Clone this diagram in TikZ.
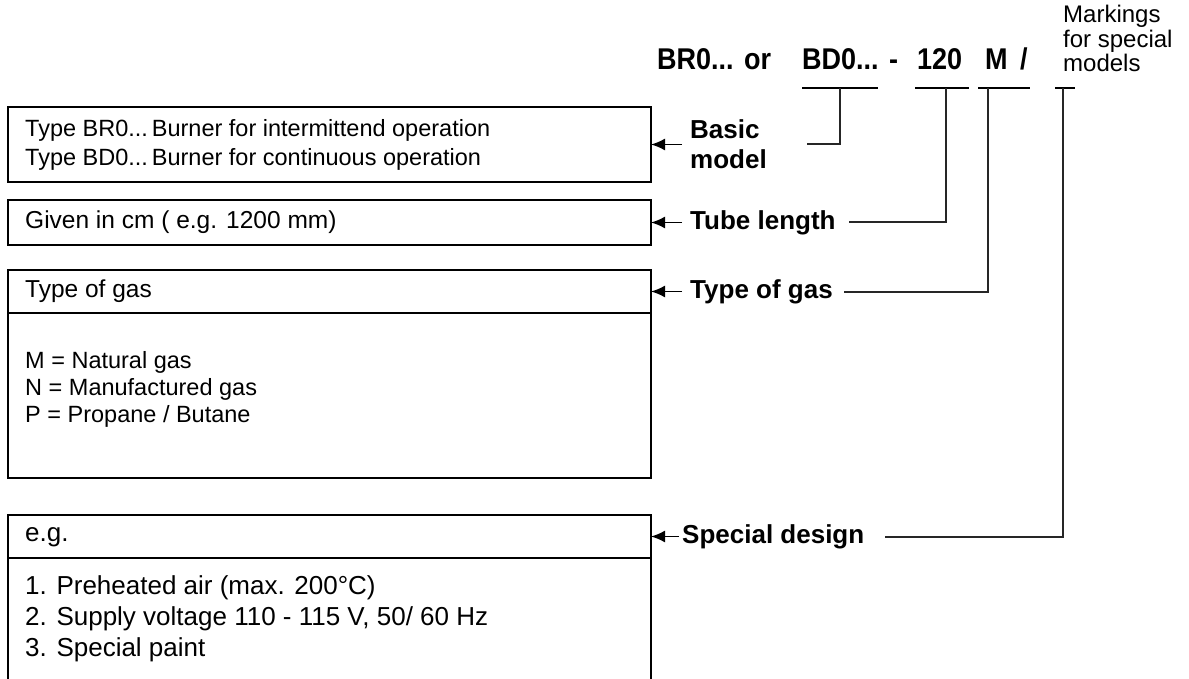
\documentclass[tikz,border=0pt]{standalone}
\usepackage{fontspec}
\setmainfont{Liberation Sans}
\newfontfamily\codefamily[FakeStretch=0.9]{Liberation Sans}
\usetikzlibrary{arrows.meta,positioning}
\newcommand\txtfont{\fontsize{23.5}{29}\selectfont}
\newcommand\listfont{\fontsize{23.5}{27}\selectfont}
\newcommand\bigtxtfont{\fontsize{26}{31}\selectfont}
\newcommand\lblfont{\fontsize{26}{30}\selectfont\bfseries}
\newcommand\codefont{\codefamily\fontsize{30}{32}\selectfont\bfseries}
\newcommand\notefont{\fontsize{24}{24.5}\selectfont}
\tikzset{
  box/.style={draw,line width=1.6pt,minimum width=643pt,inner sep=0pt,outer sep=0pt,anchor=north west},
  txt/.style={font=\txtfont,align=left,inner sep=0pt,anchor=west},
  listtxt/.style={txt,font=\listfont,anchor=north west},
  bigtxt/.style={txt,font=\bigtxtfont},
  lbl/.style={font=\lblfont,align=left,inner xsep=8pt,inner ysep=0pt,right=31pt of #1},
  code/.style={font=\codefont,inner sep=0pt,anchor=base west},
  arr/.style={-{Latex[length=14pt,width=12pt]},line width=1.6pt},
  conn/.style={line width=1.4pt,black!85},
  uline/.style={line width=1.9pt}
}
\begin{document}
\begin{tikzpicture}[x=1pt,y=-1pt]
  \useasboundingbox (0,0) rectangle (1189,679);

  % type designation
  \node[code] (brtok) at (657,70) {BR0...};
  \node[code] (ortok) at (744,70) {or};
  \node[code] (bdtok) at (802,70) {BD0...};
  \node[code] (dashtok) at (889,70) {-};
  \node[code] (lentok) at (917,70) {120};
  \node[code] (gastok) at (985,70) {M};
  \node[code] (slashtok) at (1020,70) {/};
  \node[font=\notefont,align=left,inner sep=0pt,anchor=north west] (note) at (1063,5) {Markings\\for special\\models};

  \coordinate (bdmark) at (840,88);
  \coordinate (lenmark) at (946,88);
  \coordinate (gasmark) at (988,88);
  \coordinate (specmark) at (1063,88);
  \draw[uline] (802,88) -- (878,88);
  \draw[uline] (915,88) -- (969,88);
  \draw[uline] (978,88) -- (1030,88);
  \draw[uline] (1055,88) -- (1075,88);

  % boxes
  \node[box,minimum height=75pt] (basicbox) at (8,107) {};
  \node[box,minimum height=45pt] (tubebox) at (8,200) {};
  \node[box,minimum height=43pt] (gashead) at (8,270) {};
  \node[box,minimum height=165pt] (gasbody) at (gashead.south west) {};
  \node[box,minimum height=43pt] (eghead) at (8,515) {};
  \node[box,minimum height=200pt] (egbody) at (eghead.south west) {};

  \node[txt] (basictxt) at ([xshift=17pt]basicbox.west) {Type BR0...\,Burner for intermittend operation\\Type BD0...\,Burner for continuous operation};
  \node[txt,font=\fontsize{24.5}{29}\selectfont] (tubetxt) at ([xshift=17pt]tubebox.west) {Given in cm ( e.g. 1200 mm)};
  \node[txt,font=\fontsize{24.5}{29}\selectfont] (gastxt) at ([xshift=17pt]gashead.west) {Type of gas};
  \node[listtxt] (gaslist) at ([xshift=17pt,yshift=-38pt]gasbody.north west) {M = Natural gas\\N = Manufactured gas\\P = Propane / Butane};
  \node[bigtxt] (egtxt) at ([xshift=17pt,yshift=-1pt]eghead.west) {e.g.};
  \node[bigtxt,anchor=north west] (eglist) at ([xshift=17pt,yshift=-17pt]egbody.north west) {1. Preheated air (max. 200°C)\\2. Supply voltage 110 - 115 V, 50/ 60 Hz\\3. Special paint};

  % labels
  \node[lbl=basicbox] (basiclbl) {Basic\\model};
  \node[lbl=tubebox] (tubelbl) {Tube length};
  \node[lbl=gashead] (gaslbl) {Type of gas};
  \node[lbl=eghead,inner xsep=3pt,right=28pt of eghead] (speclbl) {Special design};

  \draw[arr] (basiclbl) -- (basicbox);
  \draw[arr] (tubelbl) -- (tubebox);
  \draw[arr] (gaslbl) -- (gashead);
  \draw[arr] (speclbl) -- (eghead);

  \coordinate (basicend) at (807,144);
  \coordinate (tubeend) at (849,222);
  \coordinate (gasend) at (844,292);
  \coordinate (specend) at (885,537);
  \draw[conn] (basicend) -| (bdmark);
  \draw[conn] (tubeend) -| (lenmark);
  \draw[conn] (gasend) -| (gasmark);
  \draw[conn] (specend) -| (specmark);
\end{tikzpicture}
\end{document}
